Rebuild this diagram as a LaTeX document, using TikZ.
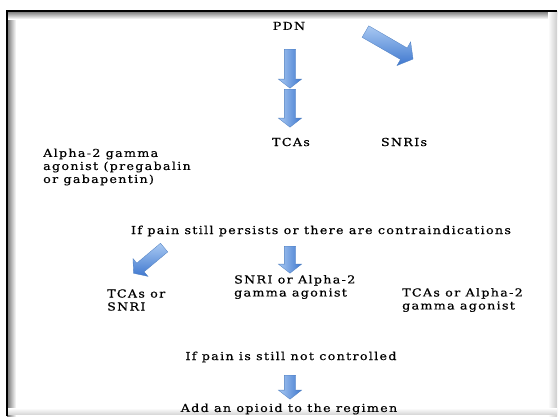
\documentclass[tikz,border=0pt]{standalone}
\usepackage{fontspec}
\setmainfont{DejaVu Serif}[FakeStretch=1.15,LetterSpace=12,FakeBold=0.6]
\usepackage{tikz}
\usetikzlibrary{shapes,arrows,positioning}
\definecolor{arrowlight}{HTML}{A9C9F2}
\definecolor{arrowdark}{HTML}{3F78CF}
\definecolor{arrowedge}{HTML}{4F7FC0}
\tikzset{
    label/.style={
    font=\fontsize{11}{13}\selectfont,inner sep=0pt
    },
    mlabel/.style={
    font=\fontsize{11}{13}\selectfont,inner sep=0pt,align=left,anchor=west
    },
    barrow/.style={
    single arrow,draw=arrowedge,line width=0.3pt,
    left color=arrowlight,right color=arrowdark,
    inner xsep=0pt,inner ysep=5.5pt,text height=0pt,text depth=0pt,
    single arrow head extend=6pt,single arrow tip angle=104,
    minimum width=0pt
    },
    darrow/.style={
    barrow,top color=arrowlight,bottom color=arrowdark
    },
}
\begin{document}
\begin{tikzpicture}[x=1pt, y=-1pt]
   \useasboundingbox (0,0) rectangle (560,416);
   % frame with inner shadow
   \fill[left color=black!55, right color=white] (7,11) rectangle (16,416);
   \fill[top color=black!55, bottom color=white] (7,11) rectangle (557,19);
   \fill[left color=white, right color=black!20] (548,11) rectangle (557,416);
   \fill[top color=white, bottom color=black!15] (7,408) rectangle (557,414);
   \draw[line width=2pt] (7,416) -- (7,11) -- (557,11);

   \node[label] (PDN) at (289,26) {PDN};
   \node[label] (TCA) at (291,142) {TCAs};
   \node[label] (SNRI) at (404,142) {SNRIs};
   \node[mlabel] (A2G) at (43,167) {Alpha-2 gamma\\agonist (pregabalin\\or gabapentin)};
   \node[label] (PERS) at (321,231) {If pain still persists or there are contraindications};
   \node[mlabel] (TCASN) at (107,300) {TCAs or\\SNRI};
   \node[mlabel] (SNA2) at (234,287) {SNRI or Alpha-2\\gamma agonist};
   \node[mlabel] (TCA2) at (402,300) {TCAs or Alpha-2\\gamma agonist};
   \node[label] (CTRL) at (291,357) {If pain is still not controlled};
   \node[label] (OPI) at (289,409) {Add an opioid to the regimen};

   \node[barrow,rotate=-90,minimum height=39pt] (a1) at (290,66.5) {};
   \node[barrow,rotate=-90,minimum height=38pt] (a2) at (290,106) {};
   \node[darrow,rotate=-30,minimum height=55pt,inner ysep=6.5pt,single arrow head extend=7pt] (a3) at (387,44) {};
   \node[darrow,rotate=-140,minimum height=40pt] (a4) at (150.5,259) {};
   \node[barrow,rotate=-90,minimum height=27pt] (a5) at (290,257.5) {};
   \node[barrow,rotate=-90,minimum height=24pt] (a6) at (290,385) {};
\end{tikzpicture}
\end{document}
